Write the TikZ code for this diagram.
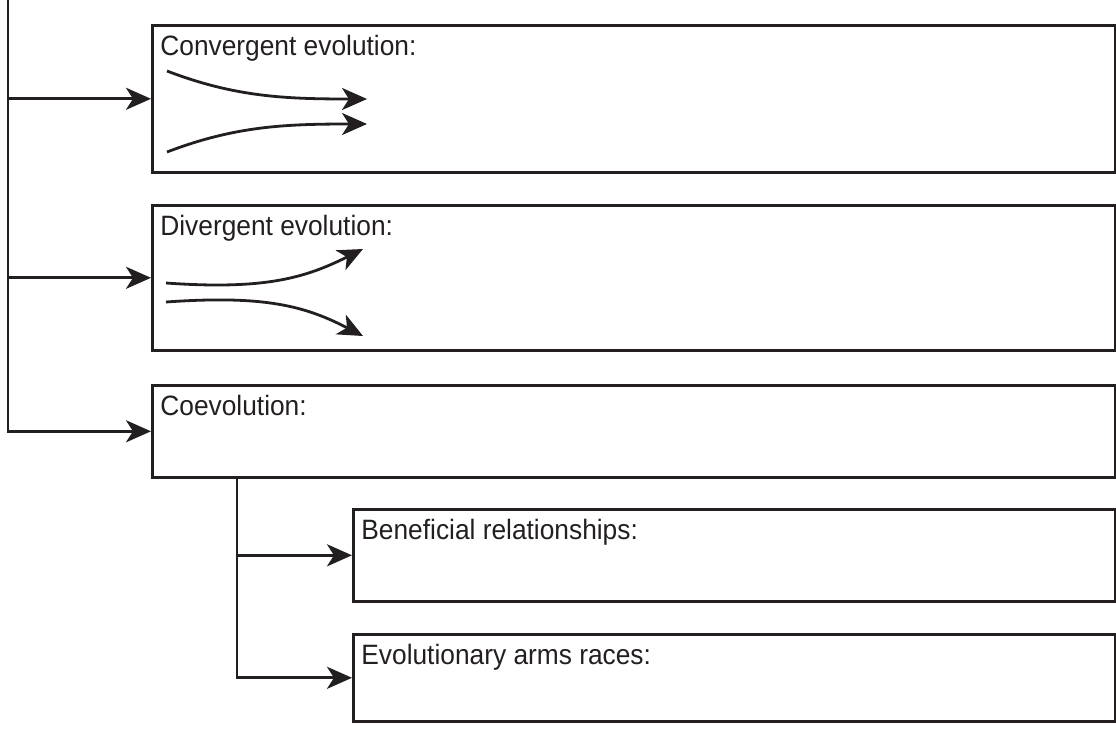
\documentclass[tikz,border=0pt]{standalone}
\usepackage{fontspec}
\setmainfont{Liberation Sans}[FakeStretch=0.94]
\usetikzlibrary{arrows.meta}
\definecolor{ink}{HTML}{231F20}
\tikzset{
  box/.style={draw=ink, line width=1.3pt, rectangle, anchor=north west, inner sep=0pt, minimum width=#1},
  box/.default=481.5pt,
  title/.style={anchor=north west, inner sep=0pt, text=ink, font=\fontsize{14pt}{17pt}\selectfont},
  conn/.style={draw=ink, line width=1.4pt, -{Stealth[length=12.5pt,width=11pt,inset=3.5pt]}},
  spine/.style={draw=ink, line width=1.4pt}
}
\begin{document}
\begin{tikzpicture}[x=0.5pt,y=-0.5pt]
\useasboundingbox (0,0) rectangle (1116,729);

\node[box, minimum height=73.5pt] (conv) at (151,24) {};
\node[box, minimum height=72.5pt] (div) at (151,204) {};
\node[box, minimum height=46pt] (co) at (151,384) {};
\node[box=381pt, minimum height=46pt] (ben) at (352,508) {};
\node[box=381pt, minimum height=43.5pt] (arms) at (352,633) {};

\node[title] (convt) at ([shift={(4.5pt,-5.5pt)}]conv.north west) {Convergent evolution:};
\node[title] (divt) at ([shift={(4.5pt,-5.5pt)}]div.north west) {Divergent evolution:};
\node[title] (cot) at ([shift={(4.5pt,-5.5pt)}]co.north west) {Coevolution:};
\node[title] (bent) at ([shift={(4.5pt,-5.5pt)}]ben.north west) {Beneficial relationships:};
\node[title] (armst) at ([shift={(4.5pt,-5.5pt)}]arms.north west) {Evolutionary arms races:};

\coordinate (top) at (8,0);
\coordinate (sub) at ([xshift=43pt]co.south west);

\draw[conn] (top) |- (co.west);
\draw[conn] (top |- conv.west) -- (conv.west);
\draw[conn] (top |- div.west) -- (div.west);
\draw[conn] (sub) |- (arms.west);
\draw[conn] (sub |- ben.west) -- (ben.west);

\draw[conn] (167,71) .. controls (235,97) and (285,99) .. (367,99);
\draw[conn] (167,152) .. controls (235,126) and (285,124) .. (367,124);
\draw[conn] (166,283) .. controls (265,290) and (305,278) .. (363,249);
\draw[conn] (166,302) .. controls (265,295) and (305,306) .. (363,336);
\end{tikzpicture}
\end{document}
